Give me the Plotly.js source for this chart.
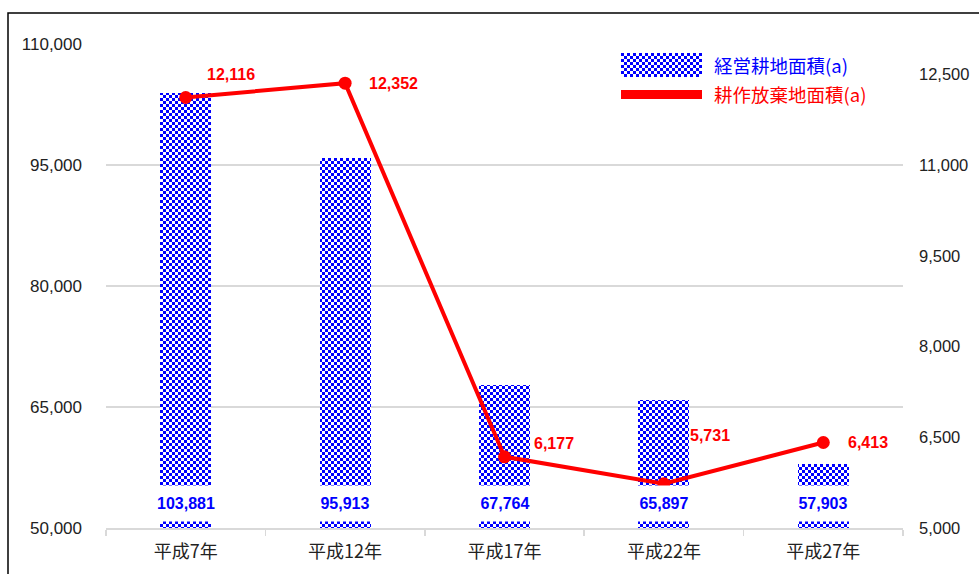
<!DOCTYPE html>
<html>
<head>
<meta charset="utf-8">
<script src="https://cdn.plot.ly/plotly-3.0.1.min.js"></script>
<style>html,body{margin:0;padding:0;background:#fff;}#chart{width:979px;height:574px;}</style>
</head>
<body>
<div id="chart"></div>
<script>
// ---- data ----
const categories = ["平成7年", "平成12年", "平成17年", "平成22年", "平成27年"];
const farmedArea = [103881, 95913, 67764, 65897, 57903];      // 経営耕地面積(a)
const abandonedArea = [12116, 12352, 6177, 5731, 6413];       // 耕作放棄地面積(a)
const seriesNames = ["経営耕地面積(a)", "耕作放棄地面積(a)"];

// ---- label offsets (style) ----
const lineLabelShift = [[45, 23], [48, 0], [49, 13], [46, 48], [45, 0]];

const fmt = v => v.toLocaleString('en-US');
const BLUE = '#0000ff', RED = '#ff0000';
const plotL = 106, plotR = 903, plotT = 44, plotB = 528;
const px = x => (x - plotL) / (plotR - plotL);
const py = y => (plotB - y) / (plotB - plotT);

const traces = [
  {
    type: 'bar', x: categories, y: farmedArea, name: seriesNames[0],
    width: 0.32,
    marker: {color: '#ffffff', line: {width: 0},
      pattern: {shape: '.', fgcolor: BLUE, bgcolor: '#ffffff', size: 6, solidity: 0.5, fillmode: 'replace'}},
    hoverinfo: 'skip', showlegend: false
  },
  {
    type: 'scatter', mode: 'lines+markers', x: categories, y: abandonedArea, yaxis: 'y2',
    name: seriesNames[1], line: {color: RED, width: 4}, marker: {color: RED, size: 13},
    hoverinfo: 'skip', showlegend: false
  }
];

const annotations = [];
categories.forEach((c, i) => {
  annotations.push({
    x: c, y: 50000, xref: 'x', yref: 'y', yanchor: 'bottom', yshift: 6,
    text: '<b>' + fmt(farmedArea[i]) + '</b>', showarrow: false,
    bgcolor: '#ffffff', width: 60, height: 35, borderpad: 0,
    font: {family: 'Liberation Sans, Arial, sans-serif', size: 16, color: BLUE}
  });
  annotations.push({
    x: c, y: abandonedArea[i], xref: 'x', yref: 'y2',
    xshift: lineLabelShift[i][0], yshift: lineLabelShift[i][1],
    text: '<b>' + fmt(abandonedArea[i]) + '</b>', showarrow: false,
    font: {family: 'Liberation Sans, Arial, sans-serif', size: 16, color: RED}
  });
});
// legend texts
annotations.push({xref: 'paper', yref: 'paper', x: px(712), y: py(65), xanchor: 'left', yanchor: 'middle',
  text: seriesNames[0], showarrow: false, font: {family: 'Noto Sans CJK JP', size: 18.5, color: BLUE}});
annotations.push({xref: 'paper', yref: 'paper', x: px(712), y: py(94), xanchor: 'left', yanchor: 'middle',
  text: seriesNames[1], showarrow: false, font: {family: 'Noto Sans CJK JP', size: 18.5, color: RED}});

const checkerSvg = "<svg xmlns='http://www.w3.org/2000/svg' width='81' height='24'><defs><pattern id='c' width='6' height='6' patternUnits='userSpaceOnUse'><rect width='6' height='6' fill='white'/><rect width='3' height='3' fill='blue'/><rect x='3' y='3' width='3' height='3' fill='blue'/></pattern></defs><rect width='81' height='24' fill='url(%23c)'/></svg>";

const layout = {
  width: 979, height: 574,
  margin: {l: plotL, r: 979 - plotR, t: plotT, b: 574 - plotB},
  paper_bgcolor: '#ffffff', plot_bgcolor: '#ffffff',
  showlegend: false,
  font: {family: 'Liberation Sans, Arial, sans-serif', color: '#222'},
  xaxis: {
    type: 'category', range: [-0.5, 4.5], showgrid: false,
    showline: true, linecolor: '#d9d9d9', linewidth: 1.5,
    ticks: 'outside', tickson: 'boundaries', ticklen: 6, tickcolor: '#d9d9d9', tickwidth: 1.5,
    tickfont: {family: 'Noto Sans CJK JP', size: 18, color: '#222'}, ticklabelstandoff: 7
  },
  yaxis: {
    range: [50000, 110000], tick0: 50000, dtick: 15000, tickformat: ',d',
    showgrid: true, gridcolor: '#d9d9d9', gridwidth: 1.5, zeroline: false, showline: false,
    tickfont: {size: 17, color: '#222'}, ticklabelstandoff: 23
  },
  yaxis2: {
    overlaying: 'y', side: 'right', range: [5000, 13000], tick0: 5000, dtick: 1500, tickformat: ',d',
    showgrid: false, zeroline: false, showline: false,
    tickfont: {size: 16.5, color: '#222'}, ticklabelstandoff: 15
  },
  bargap: 0,
  annotations: annotations,
  shapes: [
    {type: 'rect', xref: 'paper', yref: 'paper', x0: px(8), x1: px(1000), y0: py(600), y1: py(13),
      line: {color: '#000', width: 1.5}, fillcolor: 'rgba(0,0,0,0)', layer: 'below'},
    {type: 'rect', xref: 'paper', yref: 'paper', x0: px(621), x1: px(702), y0: py(99), y1: py(90),
      line: {width: 0}, fillcolor: RED}
  ],
  images: [{
    source: 'data:image/svg+xml;charset=utf-8,' + checkerSvg,
    xref: 'paper', yref: 'paper', x: px(621), y: py(53), sizex: 81 / (plotR - plotL), sizey: 24 / (plotB - plotT),
    xanchor: 'left', yanchor: 'top', sizing: 'stretch', layer: 'above'
  }]
};

Plotly.newPlot('chart', traces, layout, {displayModeBar: false, staticPlot: true}).then(gd => {
  const NS = 'http://www.w3.org/2000/svg';
  gd.querySelectorAll('pattern').forEach(p => {
    p.setAttribute('width', '6'); p.setAttribute('height', '6');
    p.setAttribute('patternUnits', 'userSpaceOnUse');
    while (p.firstChild) p.removeChild(p.firstChild);
    const mk = (x, y, w, h, f) => { const r = document.createElementNS(NS, 'rect');
      r.setAttribute('x', x); r.setAttribute('y', y); r.setAttribute('width', w); r.setAttribute('height', h);
      r.setAttribute('fill', f); p.appendChild(r); };
    mk(0, 0, 6, 6, '#ffffff'); mk(0, 0, 3, 3, BLUE); mk(3, 3, 3, 3, BLUE);
  });
});
</script>
</body>
</html>
